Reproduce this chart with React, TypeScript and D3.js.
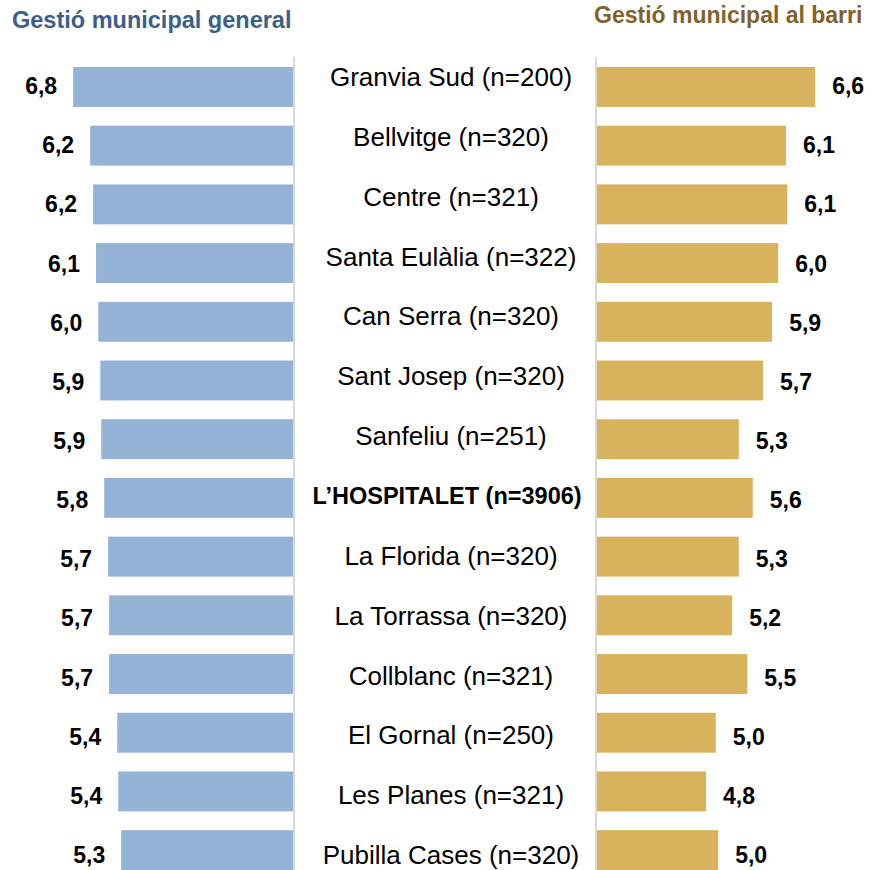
import React from "react";
import * as d3 from "d3";

const categories = [
  "Granvia Sud (n=200)",
  "Bellvitge (n=320)",
  "Centre (n=321)",
  "Santa Eulàlia (n=322)",
  "Can Serra (n=320)",
  "Sant Josep (n=320)",
  "Sanfeliu (n=251)",
  "L’HOSPITALET (n=3906)",
  "La Florida (n=320)",
  "La Torrassa (n=320)",
  "Collblanc (n=321)",
  "El Gornal (n=250)",
  "Les Planes (n=321)",
  "Pubilla Cases (n=320)",
];
const generalValues = [6.76, 6.24, 6.15, 6.06, 5.99, 5.93, 5.9, 5.81, 5.69, 5.66, 5.66, 5.41, 5.38, 5.29];
const barriValues = [6.6, 6.12, 6.14, 5.99, 5.89, 5.74, 5.34, 5.57, 5.34, 5.23, 5.48, 4.96, 4.8, 5.0];
const highlight = "L’HOSPITALET (n=3906)";
const titleLeft = "Gestió municipal general";
const titleRight = "Gestió municipal al barri";

const W = 877;
const H = 870;
const FONT = "'Liberation Sans', Arial, Helvetica, sans-serif";
const fmt = (v: number) => d3.format(".1f")(v).replace(".", ",");

export default function App() {
  const xLeft = d3.scaleLinear().domain([0, 9]).range([294, 0]);
  const xRight = d3.scaleLinear().domain([3, 7.5]).range([597, 597 + 4.5 * 60.6]);
  const y = d3.scaleBand<string>().domain(categories).range([67, 870.1]).paddingInner(0.32).paddingOuter(0);
  const yLabel = d3.scalePoint<string>().domain(categories).range([77, 855]);
  const yVal = d3.scalePoint<string>().domain(categories).range([86, 855]);

  return (
    <svg width={W} height={H} style={{ position: "absolute", left: 0, top: 0, display: "block" }} fontFamily={FONT}>
      <rect x={0} y={0} width={W} height={H} fill="#ffffff" />
      <text x={12} y={28} fontSize={23.5} fontWeight="bold" fill="#3B6088">{titleLeft}</text>
      <text x={594} y={23} fontSize={23} fontWeight="bold" fill="#80622A">{titleRight}</text>

      <rect x={293} y={57} width={2} height={H - 57} fill="#d9d9d9" />
      <rect x={595} y={57} width={2} height={H - 57} fill="#d9d9d9" />

      {categories.map((c, i) => {
        const by = y(c)!;
        const bh = y.bandwidth();
        const gv = generalValues[i];
        const bv = barriValues[i];
        const isH = c === highlight;
        return (
          <g key={c}>
            <rect x={xLeft(gv)} y={by} width={xLeft(0) - xLeft(gv) - 1} height={bh} fill="#95B3D7" />
            <rect x={xRight(3)} y={by} width={xRight(bv) - xRight(3)} height={bh} fill="#D9B25D" />
            <text x={xLeft(gv) - 16} y={yVal(c)!} dy="0.35em" textAnchor="end" fontSize={23} fontWeight="bold" fill="#000">
              {fmt(gv)}
            </text>
            <text x={xRight(bv) + 17} y={yVal(c)!} dy="0.35em" textAnchor="start" fontSize={23} fontWeight="bold" fill="#000">
              {fmt(bv)}
            </text>
            <text
              x={isH ? 447 : 451}
              y={yLabel(c)!}
              dy="0.35em"
              textAnchor="middle"
              fontSize={isH ? 23.5 : 26}
              fontWeight={isH ? "bold" : "normal"}
              fill="#000"
            >
              {c}
            </text>
          </g>
        );
      })}
    </svg>
  );
}
